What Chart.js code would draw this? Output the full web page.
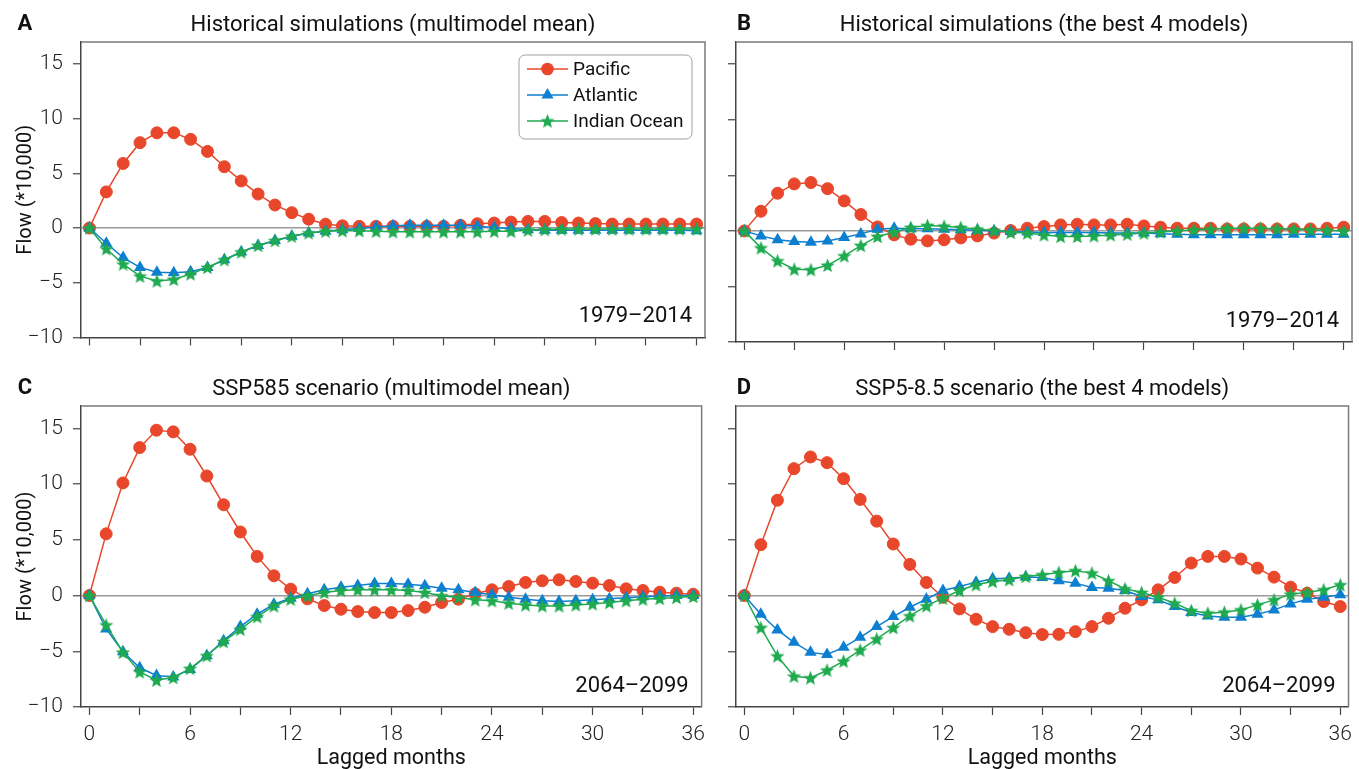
<!DOCTYPE html>
<html><head><meta charset="utf-8">
<script src="https://cdn.jsdelivr.net/npm/chart.js@4/dist/chart.umd.min.js"></script>
<style>
html,body{margin:0;padding:0;background:#fff;}
#wrap{position:relative;width:1359px;height:769px;overflow:hidden;background:#fff;}
canvas{position:absolute;display:block;}
</style></head><body>
<div id="wrap">
<canvas id="cA" width="712" height="360" style="left:0;top:0"></canvas>
<canvas id="cB" width="647" height="360" style="left:712px;top:0"></canvas>
<canvas id="cC" width="712" height="409" style="left:0;top:360px"></canvas>
<canvas id="cD" width="647" height="409" style="left:712px;top:360px"></canvas>
</div>
<script>
// ---------- data ----------
const months = [0,1,2,3,4,5,6,7,8,9,10,11,12,13,14,15,16,17,18,19,20,21,22,23,24,25,26,27,28,29,30,31,32,33,34,35,36];
const seriesNames = ['Pacific','Atlantic','Indian Ocean'];
const yTickValues = [-10,-5,0,5,10,15];
const xTickValues = [0,3,6,9,12,15,18,21,24,27,30,33,36];
const xLabelValues = [0,6,12,18,24,30,36];

// Panel A: Historical simulations (multimodel mean)
const pacificA  = [0,3.3,5.9,7.8,8.7,8.7,8.1,7.0,5.6,4.3,3.1,2.1,1.4,0.8,0.35,0.2,0.15,0.15,0.15,0.15,0.15,0.15,0.24,0.39,0.45,0.54,0.6,0.6,0.5,0.45,0.4,0.36,0.36,0.36,0.36,0.36,0.36];
const atlanticA = [0,-1.4,-2.7,-3.6,-4.05,-4.1,-4.0,-3.6,-2.9,-2.2,-1.6,-1.15,-0.75,-0.45,-0.3,-0.15,-0.05,0.1,0.2,0.25,0.25,0.25,0.25,0.15,0.05,-0.05,-0.15,-0.2,-0.2,-0.2,-0.2,-0.2,-0.2,-0.2,-0.2,-0.2,-0.25];
const indianA   = [0,-1.9,-3.3,-4.4,-4.85,-4.7,-4.2,-3.6,-2.9,-2.2,-1.6,-1.15,-0.75,-0.45,-0.3,-0.25,-0.25,-0.3,-0.35,-0.35,-0.35,-0.35,-0.35,-0.35,-0.3,-0.3,-0.2,-0.15,-0.1,-0.1,-0.1,-0.1,-0.1,-0.1,-0.1,-0.1,-0.1];

// Panel B: Historical simulations (the best 4 models)
const pacificB  = [0,1.77,3.39,4.23,4.35,3.8,2.7,1.47,0.36,-0.36,-0.75,-0.9,-0.8,-0.63,-0.45,-0.2,0.03,0.24,0.39,0.54,0.6,0.54,0.54,0.6,0.45,0.33,0.24,0.24,0.24,0.18,0.18,0.18,0.18,0.18,0.18,0.24,0.33];
const atlanticB = [0,-0.45,-0.8,-0.96,-1.02,-0.9,-0.6,-0.27,0.15,0.24,0.2,0.2,0.15,0.1,0.05,0,-0.05,-0.1,-0.15,-0.15,-0.15,-0.15,-0.2,-0.2,-0.2,-0.25,-0.3,-0.35,-0.35,-0.35,-0.35,-0.35,-0.35,-0.3,-0.3,-0.3,-0.3];
const indianB   = [0,-1.53,-2.7,-3.45,-3.5,-3.1,-2.25,-1.32,-0.5,-0.12,0.3,0.48,0.42,0.3,0.15,0.03,-0.15,-0.2,-0.36,-0.5,-0.5,-0.45,-0.36,-0.3,-0.2,-0.1,0,0.1,0.15,0.24,0.24,0.24,0.2,0.15,0.1,0.05,0];

// Panel C: SSP585 scenario (multimodel mean)
const pacificC  = [0,5.53,10.1,13.27,14.83,14.68,13.12,10.72,8.14,5.7,3.51,1.77,0.57,-0.3,-0.9,-1.23,-1.44,-1.53,-1.53,-1.35,-1.05,-0.63,-0.33,0.15,0.51,0.81,1.17,1.32,1.41,1.26,1.11,0.9,0.6,0.45,0.3,0.21,0.12];
const atlanticC = [0,-3.0,-5.04,-6.48,-7.17,-7.3,-6.63,-5.4,-4.05,-2.79,-1.68,-0.78,-0.24,0.15,0.51,0.75,0.9,1.08,1.08,1.02,0.87,0.66,0.51,0.27,0.06,-0.15,-0.33,-0.48,-0.54,-0.48,-0.39,-0.3,-0.2,-0.1,-0.05,0,0];
const indianC   = [0,-2.64,-5.1,-6.85,-7.6,-7.36,-6.55,-5.4,-4.14,-3.03,-1.9,-0.93,-0.33,-0.03,0.27,0.45,0.51,0.51,0.51,0.45,0.27,-0.03,-0.18,-0.39,-0.48,-0.69,-0.84,-0.93,-0.93,-0.84,-0.75,-0.63,-0.48,-0.33,-0.27,-0.18,-0.09];

// Panel D: SSP5-8.5 scenario (the best 4 models)
const pacificD  = [0,4.56,8.55,11.38,12.43,11.92,10.48,8.62,6.67,4.62,2.79,1.17,-0.15,-1.2,-2.13,-2.79,-3.03,-3.33,-3.5,-3.48,-3.24,-2.79,-2.04,-1.14,-0.39,0.51,1.62,2.91,3.51,3.51,3.27,2.46,1.65,0.75,0.21,-0.54,-0.99];
const atlanticD = [0,-1.68,-3.09,-4.2,-5.1,-5.28,-4.65,-3.75,-2.79,-1.89,-1.05,-0.33,0.45,0.81,1.2,1.5,1.56,1.65,1.62,1.32,1.11,0.72,0.66,0.45,-0.09,-0.39,-0.99,-1.53,-1.83,-1.95,-1.95,-1.68,-1.29,-0.75,-0.33,-0.15,0.06];
const indianD   = [0,-2.88,-5.43,-7.24,-7.39,-6.7,-5.89,-4.9,-3.9,-2.88,-1.83,-0.93,-0.24,0.45,0.96,1.26,1.41,1.71,1.86,2.07,2.22,2.01,1.32,0.6,0.27,-0.15,-0.69,-1.35,-1.59,-1.5,-1.29,-0.84,-0.39,0.12,0.27,0.51,0.96];

// ---------- styles ----------
const COLORS = ['#E8472B', '#0C7FD0', '#1FAA4F'];
const FONT = 'Roboto, "Noto Sans", "DejaVu Sans", sans-serif';
Chart.defaults.font.family = FONT;
Chart.defaults.color = '#111';

function makeStar(color, R, r) {
  const s = Math.ceil(R * 2 + 2);
  const c = document.createElement('canvas');
  c.width = s; c.height = s;
  const g = c.getContext('2d');
  g.translate(s / 2, s / 2 + 0.6);
  g.beginPath();
  for (let k = 0; k < 10; k++) {
    const rad = k % 2 === 0 ? R : r;
    const ang = -Math.PI / 2 + k * Math.PI / 5;
    g.lineTo(rad * Math.cos(ang), rad * Math.sin(ang));
  }
  g.closePath();
  g.fillStyle = color;
  g.fill();
  return c;
}
const starImg = makeStar(COLORS[2], 7.5, 3.3);
const POINT = [
  {style: 'circle', radius: 6},
  {style: 'triangle', radius: 7},
  {style: starImg, radius: 7}
];

function fmtNum(v) { return v < 0 ? '\u2212' + Math.abs(v) : String(v); }

function drawMarker(ctx, i, x, y) {
  ctx.save();
  ctx.fillStyle = COLORS[i];
  if (i === 0) {
    ctx.beginPath(); ctx.arc(x, y, 6.3, 0, Math.PI * 2); ctx.fill();
  } else if (i === 1) {
    const R = 7;
    ctx.beginPath();
    for (let k = 0; k < 3; k++) {
      const a = -Math.PI / 2 + k * 2 * Math.PI / 3;
      ctx.lineTo(x + R * Math.cos(a), y + R * Math.sin(a));
    }
    ctx.closePath(); ctx.fill();
  } else {
    ctx.drawImage(starImg, x - starImg.width / 2, y - starImg.height / 2);
  }
  ctx.restore();
}

const decorPlugin = {
  id: 'decor',
  afterDraw(chart, args, o) {
    const ctx = chart.ctx, a = chart.chartArea;
    ctx.save();
    // top and right frame
    ctx.strokeStyle = '#7a7a7a';
    ctx.lineWidth = 1.5;
    ctx.beginPath();
    ctx.moveTo(a.left, a.top); ctx.lineTo(a.right, a.top); ctx.lineTo(a.right, a.bottom);
    ctx.stroke();
    // panel letter
    ctx.fillStyle = '#111';
    ctx.textBaseline = 'middle';
    ctx.textAlign = 'center';
    ctx.font = 'bold 22px ' + FONT;
    ctx.fillText(o.letter, o.letterX, a.top - 18);
    // title
    ctx.font = '22px ' + FONT;
    ctx.fillText(o.title, (a.left + a.right) / 2, a.top - 17);
    // period
    ctx.textAlign = 'right';
    ctx.textBaseline = 'alphabetic';
    ctx.font = '22px ' + FONT;
    ctx.fillText(o.period, a.right - 13, a.bottom - 15);
    // legend
    if (o.legend) {
      const L = o.legend;
      const bx = a.left + L.x, by = a.top + L.y;
      ctx.beginPath();
      ctx.roundRect(bx, by, L.w, L.h, 6);
      ctx.fillStyle = '#fff';
      ctx.fill();
      ctx.strokeStyle = '#a0a0a0';
      ctx.lineWidth = 1;
      ctx.stroke();
      ctx.font = '19px ' + FONT;
      ctx.textAlign = 'left';
      ctx.textBaseline = 'middle';
      seriesNames.forEach((name, i) => {
        const yy = by + 14 + i * 26;
        ctx.strokeStyle = COLORS[i];
        ctx.lineWidth = 1.5;
        ctx.beginPath(); ctx.moveTo(bx + 8, yy); ctx.lineTo(bx + 49, yy); ctx.stroke();
        drawMarker(ctx, i, bx + 28.5, yy);
        ctx.fillStyle = '#111';
        ctx.fillText(name, bx + 54, yy + 1);
      });
    }
    ctx.restore();
  }
};

function makePanel(id, arrs, cfg) {
  const datasets = arrs.map((arr, i) => ({
    label: seriesNames[i],
    data: months.map((m, k) => ({x: m, y: arr[k]})),
    borderColor: COLORS[i],
    backgroundColor: COLORS[i],
    borderWidth: 1.5,
    pointStyle: POINT[i].style,
    pointRadius: POINT[i].radius,
    pointBorderWidth: i === 0 ? 1 : 0,
    pointBorderColor: COLORS[i],
    tension: 0,
    order: 3 - i
  }));
  return new Chart(document.getElementById(id), {
    type: 'line',
    data: {datasets},
    plugins: [decorPlugin],
    options: {
      responsive: false,
      animation: false,
      events: [],
      layout: {padding: {top: cfg.padTop, right: cfg.padRight, left: 0, bottom: 0}},
      plugins: {
        legend: {display: false},
        tooltip: {enabled: false},
        decor: {letter: cfg.letter, letterX: cfg.letterX, title: cfg.title, period: cfg.period, legend: cfg.legend}
      },
      scales: {
        x: {
          type: 'linear', min: -0.5, max: 36.5,
          afterBuildTicks: s => { s.ticks = xTickValues.map(v => ({value: v})); },
          afterFit: s => { s.height = cfg.xHeight; },
          ticks: {
            autoSkip: false, maxRotation: 0, minRotation: 0, padding: 7,
            font: {size: 21, weight: '300'}, color: '#222',
            callback: v => (cfg.showX && xLabelValues.includes(v)) ? String(v) : ''
          },
          grid: {drawOnChartArea: false, drawTicks: true, tickColor: '#444', tickLength: 8, tickWidth: 1.2},
          border: {display: true, color: '#444', width: 1.5},
          title: {display: cfg.showX, text: 'Lagged months', font: {size: 21.5}, color: '#111', padding: {top: 0, bottom: -3}}
        },
        y: {
          min: -10, max: 17,
          afterBuildTicks: s => { s.ticks = yTickValues.map(v => ({value: v})); },
          afterFit: s => { s.width = cfg.yWidth; },
          ticks: {
            display: cfg.showY, padding: 10,
            font: {size: 21, weight: '300'}, color: '#222',
            callback: v => fmtNum(v)
          },
          grid: {
            drawOnChartArea: true, drawTicks: true,
            color: c => (c.tick && c.tick.value === 0) ? '#9a9a9a' : 'rgba(0,0,0,0)',
            lineWidth: 1.5,
            tickColor: '#444', tickLength: 8, tickWidth: 1.2
          },
          border: {display: true, color: '#444', width: 1.5},
          title: {display: cfg.showY, text: 'Flow (*10,000)', font: {size: 20}, color: '#111', padding: {top: 14, bottom: 0}}
        }
      }
    }
  });
}

makePanel('cA', [pacificA, atlanticA, indianA], {
  letter: 'A', letterX: 25, title: 'Historical simulations (multimodel mean)', period: '1979\u20132014',
  padTop: 42, padRight: 7, yWidth: 81, xHeight: 18, showX: false, showY: true,
  legend: {x: 438, y: 13, w: 173, h: 84}
});
makePanel('cB', [pacificB, atlanticB, indianB], {
  letter: 'B', letterX: 32, title: 'Historical simulations (the best 4 models)', period: '1979\u20132014',
  padTop: 42, padRight: 1, yWidth: 24, xHeight: 18, showX: false, showY: false
});
makePanel('cC', [pacificC, atlanticC, indianC], {
  letter: 'C', letterX: 25, title: 'SSP585 scenario (multimodel mean)', period: '2064\u20132099',
  padTop: 46, padRight: 7, yWidth: 81, xHeight: 62, showX: true, showY: true
});
makePanel('cD', [pacificD, atlanticD, indianD], {
  letter: 'D', letterX: 32, title: 'SSP5-8.5 scenario (the best 4 models)', period: '2064\u20132099',
  padTop: 46, padRight: 1, yWidth: 24, xHeight: 62, showX: true, showY: false
});
</script>
</body></html>
